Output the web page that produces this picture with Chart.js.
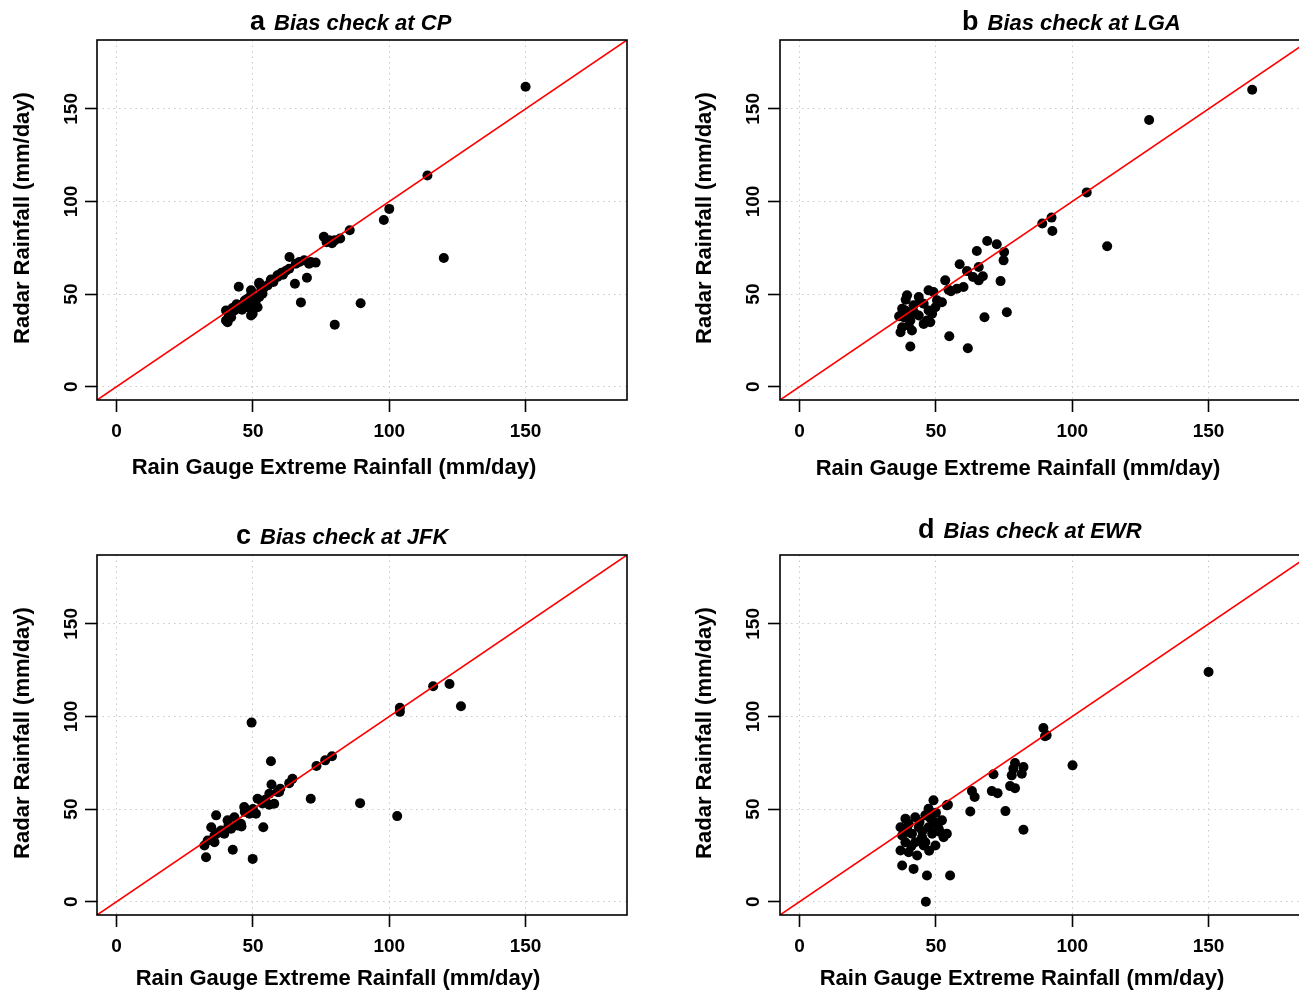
<!DOCTYPE html>
<html>
<head>
<meta charset="utf-8">
<script src="https://cdn.jsdelivr.net/npm/chart.js@4.4.1/dist/chart.umd.min.js"></script>
<style>
  html, body { margin: 0; padding: 0; background: #fff; overflow: hidden; width: 1299px; height: 992px; }
  .panel { position: absolute; width: 650px; height: 500px; }
</style>
</head>
<body>
<div class="panel" style="left:0px; top:0px;"><canvas id="cp" width="650" height="500"></canvas></div>
<div class="panel" style="left:683px; top:0px;"><canvas id="lga" width="650" height="500"></canvas></div>
<div class="panel" style="left:0px; top:515px;"><canvas id="jfk" width="650" height="500"></canvas></div>
<div class="panel" style="left:683px; top:515px;"><canvas id="ewr" width="650" height="500"></canvas></div>
<script>
// Shared axis settings (mm/day)
const axisTicks = [0, 50, 100, 150];
const axisMin = -7.2;
const axisMax = 187.2;
const xAxisTitle = 'Rain Gauge Extreme Rainfall (mm/day)';
const yAxisTitle = 'Radar Rainfall (mm/day)';

// Central Park
const cpGauge = [150, 114, 100, 98, 120, 85.5, 76, 77, 78, 80, 82, 79, 89.5, 80, 67.6, 69.8, 65.4, 63.4, 63.3, 67,
  70.6, 68.8, 65.7, 71.2, 59, 56.6, 52.3, 44.8, 52.3, 51.7, 49.3, 40.7, 40.1, 40.7, 40.1, 42, 43.2, 45, 46.8, 48,
  49.3, 48, 51.1, 49.9, 52.3, 53.5, 55.4, 57.2, 59, 61, 42.5, 44, 46, 47, 50, 53, 54, 57.5, 60.5, 62, 73, 49.3];
const cpRadar = [162, 114, 96, 90, 69.5, 84.5, 81, 78, 79, 79, 80, 77.5, 45, 33.5, 45.5, 58.8, 55.6, 70, 63.7, 67.3,
  66.4, 68.2, 66.4, 67.3, 60.1, 57.9, 56.1, 54, 48.4, 42.9, 38.4, 34.8, 41.1, 40.2, 35.7, 37.5, 41.1, 43.9, 45.6, 47.5,
  49.3, 42.9, 46.6, 39.4, 55.6, 50.2, 54.7, 57.4, 59.2, 60.5, 42.5, 44.5, 41.5, 46.5, 44, 52, 53.5, 56.5, 61.5, 62.5, 67, 52];

// LaGuardia
const lgaGauge = [166, 128.2, 105.3, 89, 92.4, 92.7, 112.8, 68.8, 72.3, 75, 74.8, 65, 58.7, 61.4, 65.7, 63.6, 65.7,
  67.2, 73.7, 53.4, 54.6, 57.7, 60.1, 76, 67.8, 39.4, 43.7, 47.3, 50.4, 38.8, 41.8, 45.5, 47.3, 49.8, 52.2, 38.2, 40.6,
  43.7, 46.7, 48.6, 37.6, 40, 37, 41.2, 45.5, 47.9, 40.6, 54.9, 61.7, 38.9, 37.6, 49.1, 44, 42, 36.5, 39.5, 55.5];
const lgaRadar = [160.3, 144, 104.9, 88.1, 91.3, 84.1, 75.8, 78.7, 76.9, 72.7, 68.2, 73.3, 66.1, 62.4, 64.6, 59.2, 57.4,
  59.6, 57, 57.4, 52.4, 52.9, 53.8, 40.2, 37.5, 49.3, 48.4, 52, 46.6, 41.1, 43.9, 44.8, 41.1, 42.9, 45.6, 37.5, 35.7,
  38.4, 35.7, 39.4, 32.1, 33, 29.4, 30.3, 33.9, 34.8, 21.7, 27.2, 20.7, 46.9, 42.1, 51.1, 46, 40, 38, 39, 51.5];

// JFK
const jfkGauge = [49.5, 126.3, 122.1, 116.1, 103.9, 103.9, 89.3, 102.9, 71.2, 79, 76.5, 73.3, 64.5, 63.3, 60, 59, 56.6,
  56.8, 56, 57.8, 51.7, 53.8, 49.9, 42.6, 46.8, 45.6, 40.7, 43.2, 38.3, 35.9, 33.4, 32.2, 34.7, 35.9, 39.5, 42, 44.4,
  48.7, 51.1, 56, 59.6, 36.5, 32.8, 45.8, 37, 41, 47, 50, 53.5, 54.5];
const jfkRadar = [96.7, 105.5, 117.5, 116.3, 104.7, 102.5, 53.2, 46.2, 55.6, 78.5, 76.3, 73.3, 66.4, 64, 61, 59.2, 75.8,
  63.3, 52.3, 52.9, 55.6, 40.2, 23.1, 28, 51.1, 42.1, 43.9, 45.6, 38.4, 35.7, 33, 30.3, 40.2, 32.1, 36.7, 39.4, 41.1,
  47.5, 47.5, 58.3, 59.2, 46.6, 24, 40.6, 37, 41, 48.5, 50, 53, 55];

// Newark
const ewrGauge = [150, 89.4, 90, 90.6, 100.1, 79, 82.1, 78.4, 81.5, 77.8, 77.2, 79, 71.1, 70.5, 72.6, 63.2, 64.2, 62.6,
  75.5, 82.1, 54.4, 49.1, 54, 47.3, 38.8, 42.4, 46.1, 49.8, 37, 39.4, 43.7, 47.3, 51, 37.6, 41.2, 44.9, 48.6, 51.6, 54,
  38.8, 42.4, 46.1, 49.8, 52.8, 37, 40, 43.1, 45.5, 37.6, 41.8, 46.7, 55.2, 46.3, 52.2, 40, 44, 48, 50, 45, 41, 39,
  47.5, 50.5];
const ewrRadar = [124, 93.8, 89.3, 89.8, 73.6, 74.9, 72.7, 71.8, 69.1, 68.2, 62.4, 61.3, 68.8, 59.7, 58.6, 59.7, 56.5,
  48.7, 48.9, 38.8, 52.3, 54.7, 52, 50.2, 44.8, 45.6, 46.6, 42.9, 40.2, 39.4, 40.2, 40.2, 39.4, 35.7, 36.7, 34.8, 36.7,
  37.5, 36.7, 32.1, 32.1, 32.1, 30.3, 34.8, 27.6, 26.7, 24.9, 30.3, 19.5, 17.7, 14.1, 14.1, 0, 43.9, 42, 43, 45, 48,
  38, 30, 37.5, 27.5, 41];

const FONT = "'Liberation Sans', Arial, Helvetica, sans-serif";

// Frame, rotated y tick labels, axis titles and the panel heading
const panelDecor = {
  id: 'panelDecor',
  afterDatasetsDraw(chart, args, o) {
    const ctx = chart.ctx;
    const a = chart.chartArea;
    ctx.save();
    ctx.strokeStyle = '#000';
    ctx.lineWidth = 1.6;
    ctx.strokeRect(a.left, a.top, a.right - a.left, a.bottom - a.top);

    ctx.fillStyle = '#000';
    const ys = chart.scales.y;
    ctx.font = 'bold 19px ' + FONT;
    ctx.textAlign = 'center';
    ctx.textBaseline = 'alphabetic';
    ys.ticks.forEach(t => {
      const py = ys.getPixelForValue(t.value);
      ctx.save();
      ctx.translate(o.yTickX, py);
      ctx.rotate(-Math.PI / 2);
      ctx.fillText(String(t.value), 0, 0);
      ctx.restore();
    });

    ctx.font = 'bold 22px ' + FONT;
    ctx.fillText(xAxisTitle, o.xTitleX, o.xTitleY);
    ctx.save();
    ctx.translate(o.yTitleX, o.yTitleY);
    ctx.rotate(-Math.PI / 2);
    ctx.fillText(yAxisTitle, 0, 0);
    ctx.restore();

    ctx.textAlign = 'left';
    ctx.font = 'bold 27px ' + FONT;
    ctx.fillText(o.letter, o.titleX, o.titleY);
    const w = ctx.measureText(o.letter).width;
    ctx.font = 'italic bold 22px ' + FONT;
    ctx.fillText('Bias check at ' + o.station, o.titleX + w + 9, o.titleY);
    ctx.restore();
  }
};

function makePanel(id, gauge, radar, decor) {
  const points = gauge.map((g, i) => ({ x: g, y: radar[i] }));
  const axisCommon = {
    type: 'linear',
    min: axisMin,
    max: axisMax,
    afterBuildTicks: s => { s.ticks = axisTicks.map(v => ({ value: v })); },
    grid: {
      color: '#c9c9c9',
      lineWidth: 1,
      borderDash: [1.5, 4],
      drawTicks: true,
      tickLength: 12,
      tickColor: '#000',
      tickWidth: 1.6,
      tickBorderDash: []
    },
    border: { display: false, dash: [1.5, 4] }
  };
  new Chart(document.getElementById(id), {
    type: 'scatter',
    data: {
      datasets: [
        {
          type: 'line',
          data: [{ x: axisMin - 10, y: axisMin - 10 }, { x: axisMax + 10, y: axisMax + 10 }],
          borderColor: '#ff0000',
          borderWidth: 1.6,
          pointRadius: 0,
          fill: false,
          clip: 0,
          order: 0
        },
        {
          data: points,
          backgroundColor: '#000',
          borderColor: '#000',
          borderWidth: 0,
          pointRadius: 5,
          order: 1
        }
      ]
    },
    options: {
      responsive: false,
      animation: false,
      events: [],
      devicePixelRatio: 1,
      layout: { padding: { top: 40, right: 23, left: 0, bottom: 0 } },
      plugins: { legend: { display: false }, tooltip: { enabled: false }, title: { display: false }, panelDecor: decor },
      scales: {
        x: Object.assign({}, axisCommon, {
          position: 'bottom',
          afterFit: s => { s.height = 100; },
          ticks: { color: '#000', font: { family: FONT, weight: 'bold', size: 19 }, padding: 8, maxRotation: 0, autoSkip: false }
        }),
        y: Object.assign({}, axisCommon, {
          position: 'left',
          afterFit: s => { s.width = 97; },
          ticks: { display: false }
        })
      }
    },
    plugins: [panelDecor]
  });
}

makePanel('cp', cpGauge, cpRadar, { letter: 'a', station: 'CP', titleX: 250, titleY: 30, xTitleX: 334, xTitleY: 474, yTitleX: 29, yTitleY: 218, yTickX: 77 });
makePanel('lga', lgaGauge, lgaRadar, { letter: 'b', station: 'LGA', titleX: 279, titleY: 30, xTitleX: 335, xTitleY: 475, yTitleX: 28, yTitleY: 218, yTickX: 76 });
makePanel('jfk', jfkGauge, jfkRadar, { letter: 'c', station: 'JFK', titleX: 236, titleY: 29, xTitleX: 338, xTitleY: 470, yTitleX: 29, yTitleY: 218, yTickX: 77 });
makePanel('ewr', ewrGauge, ewrRadar, { letter: 'd', station: 'EWR', titleX: 235, titleY: 23, xTitleX: 339, xTitleY: 470, yTitleX: 28, yTitleY: 218, yTickX: 76 });
</script>
</body>
</html>
